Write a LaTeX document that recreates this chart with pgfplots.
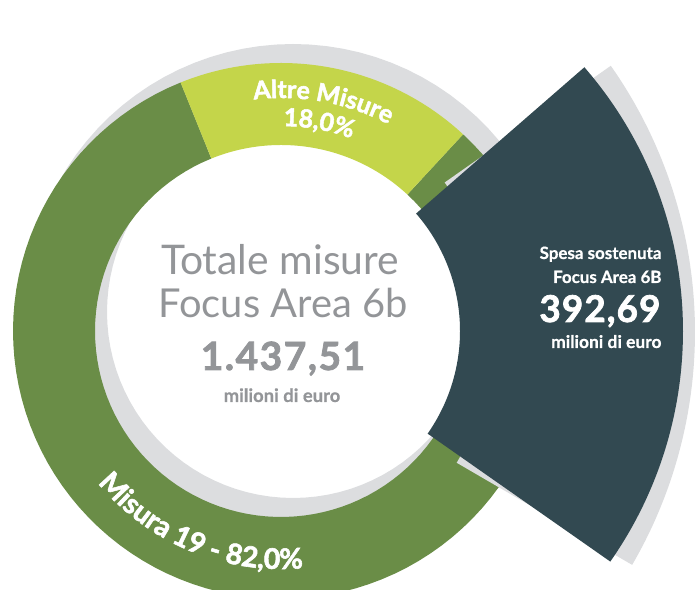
\documentclass[border=0pt]{standalone}
\usepackage{pgfplots}
\pgfplotsset{compat=1.18}
\usepackage{fontspec}
\setmainfont{Lato}[BoldFeatures={FakeBold=0.6}]
\newfontfamily\latoheavy{Lato}[BoldFeatures={FakeBold=2}]
\usetikzlibrary{decorations.text}
\definecolor{ringgreen}{RGB}{106,141,71}
\definecolor{ringlime}{RGB}{196,213,74}
\definecolor{shadowgray}{RGB}{220,221,223}
\definecolor{slate}{RGB}{50,73,81}
\definecolor{txtgray}{RGB}{147,149,152}

% data (percent shares of the ring)
\def\pctMisura{82.0}
\def\pctAltre{18.0}
% ring geometry
\def\cx{281}\def\cy{259}
\def\rin{186}\def\rout{268}
\pgfmathsetmacro\aLime{47.2}
\pgfmathsetmacro\bLime{\aLime+3.6*\pctAltre}
\pgfmathsetmacro\bGreen{\bLime+3.6*\pctMisura}
\pgfmathsetmacro\midLime{(\aLime+\bLime)/2}

\newcommand{\ringseg}[7]{%
  \addplot[fill=#7, draw=none, domain=0:3, samples=301, variable=\t]
   ({#1+ringr(\t,#3,#4)*cos(ringa(\t,#5,#6))},
    {#2+ringr(\t,#3,#4)*sin(ringa(\t,#5,#6))});
}

\begin{document}
\begin{tikzpicture}
\begin{axis}[
  width=699bp, height=590bp, scale only axis,
  xmin=0, xmax=699, ymin=0, ymax=590,
  enlargelimits=false, hide axis, clip=true,
  declare function={
    ringr(\z,\ri,\ro)=(\z<1) ? (\ro) : ((\z<2) ? ((\ro)-((\ro)-(\ri))*(\z-1)) : (\ri));
    ringa(\z,\ta,\tb)=(\z<1) ? ((\ta)+((\tb)-(\ta))*\z) : ((\z<2) ? (\tb) : ((\tb)-((\tb)-(\ta))*(\z-2)));
  },
]
% shadow ring
\ringseg{293}{278}{\rin}{\rout}{0}{360}{shadowgray}
% Misura 19
\ringseg{\cx}{\cy}{\rin}{\rout}{\bLime}{\bGreen}{ringgreen}
% Altre Misure
\ringseg{\cx}{\cy}{\rin}{\rout}{\aLime}{\bLime}{ringlime}
% exploded sector shadow and sector
\ringseg{232}{258}{260}{463}{-30.2}{35.1}{shadowgray}
\ringseg{\cx}{\cy}{179}{402}{-35}{41}{slate}

% central texts
\node[anchor=base, text=txtgray, font=\fontsize{41}{41}\selectfont] at (axis cs:280,315) {Totale misure};
\node[anchor=base, text=txtgray, font=\fontsize{40}{40}\selectfont] at (axis cs:283,272) {Focus Area 6b};
\node[anchor=base, text=txtgray, font=\latoheavy\bfseries\fontsize{39}{39}\selectfont\addfontfeature{LetterSpace=4}] at (axis cs:283,220) {1.437,51};
\node[anchor=base, text=txtgray, font=\bfseries\fontsize{18.5}{18.5}\selectfont] at (axis cs:282,188) {milioni di euro};

% sector texts
\node[anchor=base east, text=white, font=\bfseries\fontsize{17}{17}\selectfont] at (axis cs:665,331) {Spesa sostenuta};
\node[anchor=base east, text=white, font=\bfseries\fontsize{17}{17}\selectfont] at (axis cs:665,307) {Focus Area 6B};
\node[anchor=base east, text=white, font=\latoheavy\bfseries\fontsize{37}{37}\selectfont\addfontfeature{LetterSpace=3}] at (axis cs:664,268) {392,69};
\node[anchor=base east, text=white, font=\bfseries\fontsize{17.5}{17.5}\selectfont] at (axis cs:665,242) {milioni di euro};

% curved labels
\pgfmathsetmacro\sA{\midLime+40}\pgfmathsetmacro\eA{\midLime-40}
\path[decorate, decoration={text along path, text align=center,
   text={|\latoheavy\bfseries\fontsize{25}{25}\selectfont\color{white}|Altre Misure}}]
  (axis cs:{\cx+233*cos(\sA)},{\cy+233*sin(\sA)}) arc[start angle=\sA, end angle=\eA, radius=233bp];
\path[decorate, decoration={text along path, text align=center,
   text={|\latoheavy\bfseries\fontsize{25}{25}\selectfont\color{white}|18,0{\%}}}]
  (axis cs:{\cx+205*cos(\sA)},{\cy+205*sin(\sA)}) arc[start angle=\sA, end angle=\eA, radius=205bp];
\path[decorate, decoration={text along path, text align=center,
   text={|\latoheavy\bfseries\fontsize{28.5}{28.5}\selectfont\color{white}|Misura 19 - 82,0{\%}}}]
  (axis cs:{\cx+238*cos(207.5)},{\cy+238*sin(207.5)}) arc[start angle=207.5, end angle=287.5, radius=238bp];
\end{axis}
\pgfresetboundingbox
\useasboundingbox (current axis.south west) rectangle (current axis.north east);
\end{tikzpicture}
\end{document}
